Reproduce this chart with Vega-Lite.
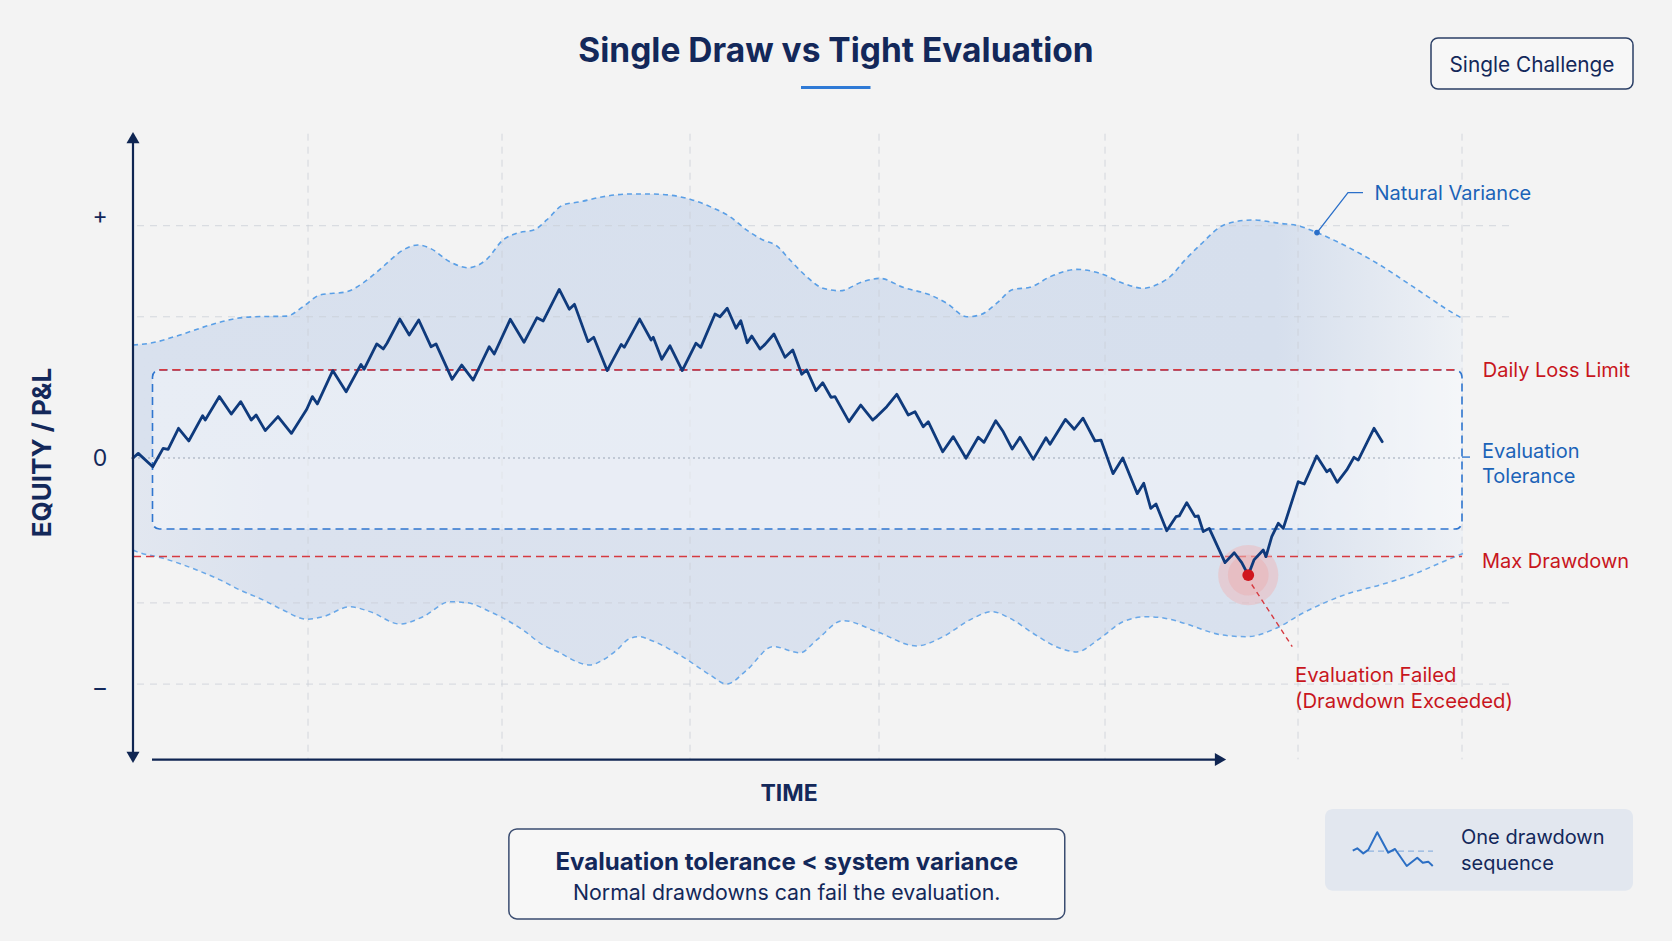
{
  "$schema": "https://vega.github.io/schema/vega-lite/v6.json",
  "width": 1672,
  "height": 941,
  "padding": 0,
  "autosize": {"type": "fit", "contains": "padding"},
  "background": "#f3f3f3",
  "config": {"view": {"stroke": null}, "text": {"font": "Inter"}},
  "datasets": {
    "equity": [
      {"t":0,"v":0},{"t":0.42,"v":2.0},{"t":1.58,"v":-3.8},{"t":2.41,"v":4.2},{"t":2.81,"v":3.8},{"t":3.64,"v":12.9},{"t":4.46,"v":7.4},{"t":5.57,"v":18.4},{"t":5.78,"v":16.5},{"t":6.91,"v":26.7},{"t":7.86,"v":19.1},{"t":8.62,"v":24.5},{"t":9.46,"v":16.5},{"t":9.85,"v":18.7},{"t":10.58,"v":11.9},{"t":11.6,"v":18.0},{"t":12.67,"v":10.7},{"t":13.9,"v":21.2},{"t":14.35,"v":26.7},{"t":14.75,"v":23.5},{"t":15.98,"v":38.0},{"t":17.05,"v":28.8},{"t":18.24,"v":40.7},{"t":18.49,"v":38.6},{"t":19.5,"v":49.6},{"t":20.02,"v":47.4},{"t":20.32,"v":49.9},{"t":21.34,"v":60.4},{"t":22.1,"v":53.5},{"t":22.86,"v":60.0},{"t":23.84,"v":48.4},{"t":24.24,"v":49.6},{"t":25.53,"v":34.2},{"t":26.3,"v":40.4},{"t":27.21,"v":33.9},{"t":28.5,"v":48.4},{"t":28.9,"v":45.2},{"t":30.18,"v":60.3},{"t":31.28,"v":50.3},{"t":32.32,"v":61.0},{"t":32.82,"v":59.6},{"t":34.1,"v":73.3},{"t":34.9,"v":64.7},{"t":35.32,"v":66.8},{"t":36.4,"v":50.6},{"t":36.86,"v":52.5},{"t":37.93,"v":38.0},{"t":39.06,"v":49.4},{"t":39.3,"v":48.1},{"t":40.53,"v":60.4},{"t":41.45,"v":51.3},{"t":41.62,"v":52.5},{"t":42.3,"v":42.9},{"t":42.96,"v":48.8},{"t":43.94,"v":38.0},{"t":45.04,"v":49.9},{"t":45.42,"v":48.1},{"t":46.56,"v":62.6},{"t":46.96,"v":61.4},{"t":47.54,"v":65.1},{"t":48.24,"v":56.4},{"t":48.62,"v":59.7},{"t":49.14,"v":50.1},{"t":49.5,"v":53.0},{"t":50.16,"v":47.4},{"t":50.56,"v":49.4},{"t":51.28,"v":53.9},{"t":52.16,"v":43.8},{"t":52.78,"v":47.0},{"t":53.5,"v":36.4},{"t":53.9,"v":38.3},{"t":54.64,"v":29.3},{"t":55.18,"v":32.7},{"t":55.84,"v":26.4},{"t":56.16,"v":26.7},{"t":57.28,"v":15.8},{"t":58.22,"v":23.0},{"t":59.18,"v":16.5},{"t":59.5,"v":18.0},{"t":60.3,"v":22.3},{"t":61.1,"v":27.7},{"t":62.02,"v":18.7},{"t":62.56,"v":20.1},{"t":63.22,"v":13.6},{"t":63.62,"v":15.8},{"t":64.78,"v":2.7},{"t":65.62,"v":9.3},{"t":66.64,"v":-0.1},{"t":67.62,"v":9.0},{"t":68.08,"v":6.8},{"t":69.02,"v":16.2},{"t":69.62,"v":11.4},{"t":70.34,"v":3.9},{"t":70.96,"v":9.0},{"t":72.02,"v":-0.6},{"t":73.04,"v":8.8},{"t":73.36,"v":6.0},{"t":74.6,"v":16.8},{"t":75.3,"v":12.5},{"t":76.0,"v":17.3},{"t":76.96,"v":7.4},{"t":77.44,"v":7.8},{"t":78.4,"v":-6.8},{"t":79.18,"v":0},{"t":80.34,"v":-15.5},{"t":80.86,"v":-11.0},{"t":81.42,"v":-21.9},{"t":81.84,"v":-20.0},{"t":82.7,"v":-31.6},{"t":83.44,"v":-25.5},{"t":83.7,"v":-25.2},{"t":84.3,"v":-19.4},{"t":84.96,"v":-25.5},{"t":85.22,"v":-25.2},{"t":85.62,"v":-32.0},{"t":86.1,"v":-30.6},{"t":87.36,"v":-45.5},{"t":88.1,"v":-41.2},{"t":88.7,"v":-45.5},{"t":89.22,"v":-50.9},{"t":89.68,"v":-44.3},{"t":90.42,"v":-40.0},{"t":90.64,"v":-42.9},{"t":91.1,"v":-34.2},{"t":91.62,"v":-28.4},{"t":92.02,"v":-30.6},{"t":93.22,"v":-10.3},{"t":93.7,"v":-11.3},{"t":94.7,"v":0.9},{"t":95.5,"v":-6.0},{"t":95.76,"v":-4.9},{"t":96.34,"v":-10.6},{"t":97.1,"v":-5.2},{"t":97.68,"v":0.3},{"t":98.02,"v":-0.9},{"t":99.28,"v":12.9},{"t":99.94,"v":7.1}
    ],
    "bandHi": [
      {"t":0,"v":49.1},{"t":1.36,"v":49.9},{"t":3.76,"v":53.5},{"t":6.16,"v":57.8},{"t":8.3,"v":60.7},{"t":9.6,"v":61.4},{"t":12.3,"v":61.7},{"t":13.6,"v":65.8},{"t":14.96,"v":70.9},{"t":17.1,"v":72.3},{"t":18.4,"v":76.1},{"t":20.0,"v":83.2},{"t":21.6,"v":90.4},{"t":22.8,"v":92.6},{"t":23.76,"v":91.2},{"t":25.36,"v":85.3},{"t":26.8,"v":82.7},{"t":28.3,"v":86.4},{"t":29.6,"v":94.8},{"t":30.7,"v":97.7},{"t":32.16,"v":99.4},{"t":33.1,"v":103.5},{"t":34.4,"v":110.0},{"t":35.76,"v":111.4},{"t":37.6,"v":113.6},{"t":39.76,"v":114.8},{"t":41.36,"v":114.8},{"t":42.96,"v":114.3},{"t":44.56,"v":112.5},{"t":46.16,"v":109.3},{"t":47.76,"v":104.9},{"t":49.1,"v":99.1},{"t":50.4,"v":94.8},{"t":51.5,"v":92.2},{"t":52.56,"v":86.1},{"t":53.9,"v":78.8},{"t":55.2,"v":73.8},{"t":56.56,"v":72.7},{"t":58.4,"v":76.7},{"t":59.76,"v":78.1},{"t":61.6,"v":74.2},{"t":63.76,"v":70.9},{"t":65.1,"v":67.3},{"t":66.7,"v":61.4},{"t":67.76,"v":62.2},{"t":69.1,"v":67.3},{"t":70.4,"v":73.3},{"t":71.76,"v":74.2},{"t":73.36,"v":78.8},{"t":75.5,"v":82.0},{"t":77.36,"v":80.3},{"t":79.2,"v":76.0},{"t":80.8,"v":73.8},{"t":82.16,"v":76.0},{"t":82.96,"v":78.8},{"t":84.16,"v":86.1},{"t":85.36,"v":92.6},{"t":87.44,"v":101.7},{"t":89.6,"v":103.5},{"t":91.76,"v":102.0},{"t":93.28,"v":100.9},{"t":94.72,"v":98.0},{"t":97.12,"v":91.9},{"t":99.76,"v":83.9},{"t":102.4,"v":74.5},{"t":105.6,"v":63.0},{"t":106.4,"v":60.5}
    ],
    "bandLo": [
      {"t":0,"v":-40.0},{"t":0.3,"v":-40.7},{"t":2.42,"v":-43.6},{"t":5.1,"v":-48.7},{"t":6.96,"v":-53.0},{"t":8.56,"v":-57.4},{"t":10.4,"v":-61.7},{"t":12.0,"v":-66.1},{"t":13.9,"v":-70.1},{"t":15.2,"v":-69.0},{"t":17.36,"v":-64.7},{"t":18.96,"v":-66.8},{"t":21.36,"v":-72.2},{"t":23.2,"v":-69.0},{"t":25.36,"v":-62.5},{"t":26.7,"v":-62.9},{"t":28.56,"v":-66.8},{"t":31.2,"v":-74.8},{"t":32.8,"v":-81.3},{"t":34.16,"v":-84.7},{"t":35.5,"v":-88.6},{"t":36.56,"v":-90.0},{"t":37.6,"v":-87.8},{"t":38.7,"v":-83.5},{"t":39.76,"v":-78.4},{"t":40.56,"v":-77.7},{"t":41.36,"v":-79.1},{"t":43.76,"v":-85.7},{"t":46.16,"v":-94.3},{"t":47.5,"v":-98.3},{"t":49.1,"v":-92.2},{"t":51.2,"v":-82.0},{"t":53.36,"v":-84.7},{"t":54.7,"v":-79.1},{"t":56.8,"v":-70.7},{"t":59.5,"v":-75.5},{"t":62.7,"v":-81.7},{"t":64.8,"v":-77.7},{"t":66.96,"v":-70.4},{"t":68.7,"v":-66.8},{"t":70.16,"v":-69.7},{"t":72.0,"v":-76.2},{"t":74.16,"v":-82.7},{"t":75.5,"v":-84.3},{"t":77.36,"v":-78.4},{"t":79.2,"v":-71.2},{"t":81.1,"v":-69.0},{"t":82.96,"v":-70.1},{"t":84.0,"v":-71.7},{"t":87.2,"v":-77.0},{"t":89.1,"v":-77.7},{"t":91.5,"v":-73.9},{"t":93.6,"v":-67.4},{"t":97.36,"v":-58.7},{"t":99.76,"v":-55.2},{"t":102.7,"v":-50.0},{"t":104.8,"v":-45.1},{"t":106.4,"v":-41.5}
    ]
  },
  "encoding": {
    "x": {"field": "t", "type": "quantitative", "scale": {"domain": [-10.64, 123.12], "nice": false, "zero": false}, "axis": null},
    "y": {"field": "v", "type": "quantitative", "scale": {"domain": [-210, 199.13], "nice": false, "zero": false}, "axis": null}
  },
  "layer": [
    {
      "data": {"name": "bandHi"},
      "mark": {"type": "area", "interpolate": "monotone", "color": {"gradient": "linear", "x1": 0, "x2": 1, "y1": 0, "y2": 0, "stops": [{"offset": 0, "color": "#d9e1ee"}, {"offset": 0.86, "color": "#d6dfed"}, {"offset": 1, "color": "#eef1f5"}]}},
      "encoding": {"y2": {"datum": 0}}
    },
    {
      "data": {"name": "bandLo"},
      "mark": {"type": "area", "interpolate": "monotone", "color": {"gradient": "linear", "x1": 0, "x2": 1, "y1": 0, "y2": 0, "stops": [{"offset": 0, "color": "#e2e7f0"}, {"offset": 0.1, "color": "#dbe2ee"}, {"offset": 0.86, "color": "#d9e1ee"}, {"offset": 1, "color": "#eef1f5"}]}},
      "encoding": {"y2": {"datum": 0}}
    },
    {
      "data": {"values": [{"t": 0.32, "t2": 110.2, "v": 101.0}, {"t": 0.32, "t2": 110.2, "v": 61.4}, {"t": 0.32, "t2": 110.2, "v": -63.0}, {"t": 0.32, "t2": 110.2, "v": -98.3}]},
      "mark": {"type": "rule", "color": "#c9ced6", "strokeDash": [7, 6], "strokeWidth": 1, "opacity": 0.75},
      "encoding": {"x2": {"field": "t2"}}
    },
    {
      "data": {"values": [{"t": 14.0, "v": 141, "v2": -131}, {"t": 29.52, "v": 141, "v2": -131}, {"t": 44.56, "v": 141, "v2": -131}, {"t": 59.68, "v": 141, "v2": -131}, {"t": 77.76, "v": 141, "v2": -131}, {"t": 93.2, "v": 141, "v2": -131}, {"t": 106.32, "v": 141, "v2": -131}]},
      "mark": {"type": "rule", "color": "#c9ced6", "strokeDash": [7, 6], "strokeWidth": 1, "opacity": 0.75},
      "encoding": {"y2": {"field": "v2"}}
    },
    {
      "data": {"name": "bandHi"},
      "mark": {"type": "line", "interpolate": "monotone", "color": "#5a9fe6", "strokeDash": [5, 4], "strokeWidth": 1.6}
    },
    {
      "data": {"name": "bandLo"},
      "mark": {"type": "line", "interpolate": "monotone", "color": "#6aa8e8", "strokeDash": [5, 4], "strokeWidth": 1.5}
    },
    {
      "data": {"values": [{"t": 1.56, "t2": 106.32, "v": 38.3, "v2": -30.9}]},
      "mark": {"type": "rect", "fill": "#ffffff", "fillOpacity": 0.4, "stroke": "#2f76cf", "strokeDash": [8, 5], "strokeWidth": 1.6, "cornerRadius": 7},
      "encoding": {"x2": {"field": "t2"}, "y2": {"field": "v2"}}
    },
    {
      "data": {"values": [{"t": 0, "t2": 106.32, "v": 0}]},
      "mark": {"type": "rule", "color": "#9aa5b5", "strokeDash": [2, 3], "strokeWidth": 1.2},
      "encoding": {"x2": {"field": "t2"}}
    },
    {
      "data": {"values": [{"t": 106.32, "t2": 106.96, "v": 0.4}]},
      "mark": {"type": "rule", "color": "#2f76cf", "strokeWidth": 1.4},
      "encoding": {"x2": {"field": "t2"}}
    },
    {
      "data": {"values": [{"t": 2.1, "t2": 105.8, "v": 38.3}, {"t": 0, "t2": 106.32, "v": -42.8}]},
      "mark": {"type": "rule", "color": "#d63a40", "strokeDash": [8, 5], "strokeWidth": 1.6},
      "encoding": {"x2": {"field": "t2"}}
    },
    {
      "data": {"values": [{"t": 89.22, "v": -50.9}]},
      "mark": {"type": "point", "filled": true, "shape": "circle", "size": 3630, "color": "#f0b4b4", "opacity": 0.45}
    },
    {
      "data": {"values": [{"t": 89.22, "v": -50.9}]},
      "mark": {"type": "point", "filled": true, "shape": "circle", "size": 1660, "color": "#eda3a3", "opacity": 0.35}
    },
    {
      "data": {"name": "equity"},
      "mark": {"type": "line", "color": "#0f3a7c", "strokeWidth": 2.8, "strokeJoin": "round", "strokeCap": "round"}
    },
    {
      "data": {"values": [{"t": 89.5, "t2": 92.74, "v": -55.0, "v2": -82.0}]},
      "mark": {"type": "rule", "color": "#d63a40", "strokeDash": [5, 4], "strokeWidth": 1.4},
      "encoding": {"x2": {"field": "t2"}, "y2": {"field": "v2"}}
    },
    {
      "data": {"values": [{"t": 89.22, "v": -50.9}]},
      "mark": {"type": "point", "filled": true, "shape": "circle", "size": 140, "color": "#d0161e", "opacity": 1}
    },
    {
      "data": {"values": [{"t": 94.72, "v": 98.0}, {"t": 97.2, "v": 115.4}, {"t": 98.4, "v": 115.4}]},
      "mark": {"type": "line", "color": "#2a6fc9", "strokeWidth": 1.3}
    },
    {
      "data": {"values": [{"t": 94.72, "v": 98.0}]},
      "mark": {"type": "point", "filled": true, "shape": "circle", "size": 32, "color": "#2a6fc9", "opacity": 1}
    },
    {
      "data": {"values": [{"t": 0, "v": 138, "v2": -130}]},
      "mark": {"type": "rule", "color": "#0f2552", "strokeWidth": 2.2},
      "encoding": {"y2": {"field": "v2"}}
    },
    {
      "data": {"values": [{"t": 1.52, "t2": 86.6, "v": -131.1}]},
      "mark": {"type": "rule", "color": "#0f2552", "strokeWidth": 2.2},
      "encoding": {"x2": {"field": "t2"}}
    },
    {
      "data": {"values": [{"t": 0, "v": 139.3}]},
      "mark": {"type": "point", "filled": true, "shape": "triangle-up", "size": 170, "color": "#0f2552", "opacity": 1}
    },
    {
      "data": {"values": [{"t": 0, "v": -130.2}]},
      "mark": {"type": "point", "filled": true, "shape": "triangle-down", "size": 170, "color": "#0f2552", "opacity": 1}
    },
    {
      "data": {"values": [{"t": 87.0, "v": -131.1}]},
      "mark": {"type": "point", "filled": true, "shape": "triangle-right", "size": 170, "color": "#0f2552", "opacity": 1}
    },
    {
      "data": {"values": [{"label": "Single Draw vs Tight Evaluation", "t": 56.24, "v": 176.4}]},
      "mark": {"type": "text", "fontSize": 33.5, "fontWeight": 700, "color": "#13285a", "align": "center", "baseline": "middle"},
      "encoding": {"text": {"field": "label"}}
    },
    {
      "data": {"values": [{"t": 53.44, "t2": 59.0, "v": 161.1}]},
      "mark": {"type": "rule", "color": "#2f7ad6", "strokeWidth": 3},
      "encoding": {"x2": {"field": "t2"}}
    },
    {
      "data": {"values": [{"t": 103.84, "t2": 120.0, "v": 182.6, "v2": 160.4}]},
      "mark": {"type": "rect", "fill": "#f7f7f7", "stroke": "#2b3f66", "strokeWidth": 1.5, "cornerRadius": 7},
      "encoding": {"x2": {"field": "t2"}, "y2": {"field": "v2"}}
    },
    {
      "data": {"values": [{"label": "Single Challenge", "t": 111.92, "v": 170.4}]},
      "mark": {"type": "text", "fontSize": 20.8, "color": "#13285a", "align": "center", "baseline": "middle"},
      "encoding": {"text": {"field": "label"}}
    },
    {
      "data": {"values": [{"label": "+", "t": -2.64, "v": 104.8}, {"label": "0", "t": -2.64, "v": -0.5}, {"label": "–", "t": -2.64, "v": -100.4}]},
      "mark": {"type": "text", "fontSize": 23, "color": "#13285a", "align": "center", "baseline": "middle"},
      "encoding": {"text": {"field": "label"}}
    },
    {
      "data": {"values": [{"label": "EQUITY / P&L", "t": -7.2, "v": 2.4}]},
      "mark": {"type": "text", "fontSize": 26, "fontWeight": 700, "angle": 270, "color": "#13285a", "align": "center", "baseline": "middle"},
      "encoding": {"text": {"field": "label"}}
    },
    {
      "data": {"values": [{"label": "TIME", "t": 52.48, "v": -146.0}]},
      "mark": {"type": "text", "fontSize": 23, "fontWeight": 700, "color": "#13285a", "align": "center", "baseline": "middle"},
      "encoding": {"text": {"field": "label"}}
    },
    {
      "data": {"values": [{"label": "Natural Variance", "t": 99.32, "v": 114.8}, {"label": "Evaluation", "t": 107.92, "v": 2.5}, {"label": "Tolerance", "t": 107.92, "v": -8.2}]},
      "mark": {"type": "text", "fontSize": 20, "color": "#1b63b8", "align": "left", "baseline": "middle"},
      "encoding": {"text": {"field": "label"}}
    },
    {
      "data": {"values": [{"label": "Daily Loss Limit", "t": 107.98, "v": 37.9}, {"label": "Max Drawdown", "t": 107.92, "v": -45.2}]},
      "mark": {"type": "text", "fontSize": 20, "color": "#c8161d", "align": "left", "baseline": "middle"},
      "encoding": {"text": {"field": "label"}}
    },
    {
      "data": {"values": [{"label": "Evaluation Failed", "t": 92.96, "v": -94.8}, {"label": "(Drawdown Exceeded)", "t": 92.96, "v": -106.3}]},
      "mark": {"type": "text", "fontSize": 20.3, "color": "#c8161d", "align": "left", "baseline": "middle"},
      "encoding": {"text": {"field": "label"}}
    },
    {
      "data": {"values": [{"t": 30.07, "t2": 74.54, "v": -161.3, "v2": -200.4}]},
      "mark": {"type": "rect", "fill": "#f7f7f7", "stroke": "#3a4c70", "strokeWidth": 1.5, "cornerRadius": 8},
      "encoding": {"x2": {"field": "t2"}, "y2": {"field": "v2"}}
    },
    {
      "data": {"values": [{"label": "Evaluation tolerance < system variance", "t": 52.3, "v": -176.0}]},
      "mark": {"type": "text", "fontSize": 24.1, "fontWeight": 700, "color": "#13285a", "align": "center", "baseline": "middle"},
      "encoding": {"text": {"field": "label"}}
    },
    {
      "data": {"values": [{"label": "Normal drawdowns can fail the evaluation.", "t": 52.3, "v": -189.6}]},
      "mark": {"type": "text", "fontSize": 21.3, "color": "#13285a", "align": "center", "baseline": "middle"},
      "encoding": {"text": {"field": "label"}}
    },
    {
      "data": {"values": [{"t": 95.36, "t2": 120.0, "v": -152.6, "v2": -188.1}]},
      "mark": {"type": "rect", "fill": "#e2e7ef", "cornerRadius": 8},
      "encoding": {"x2": {"field": "t2"}, "y2": {"field": "v2"}}
    },
    {
      "data": {"values": [{"t": 98.8, "t2": 104.0, "v": -170.9}]},
      "mark": {"type": "rule", "color": "#8fb4e0", "strokeDash": [6, 4], "strokeWidth": 1.2},
      "encoding": {"x2": {"field": "t2"}}
    },
    {
      "data": {"values": [{"t": 97.58, "v": -170.7}, {"t": 97.94, "v": -169.7}, {"t": 98.42, "v": -171.9}, {"t": 98.82, "v": -170.4}, {"t": 99.54, "v": -162.7}, {"t": 100.42, "v": -171.6}, {"t": 100.96, "v": -170.0}, {"t": 101.9, "v": -177.4}, {"t": 102.74, "v": -173.8}, {"t": 103.18, "v": -176.0}, {"t": 103.62, "v": -175.5}, {"t": 103.98, "v": -177.4}]},
      "mark": {"type": "line", "color": "#2c6fc4", "strokeWidth": 2, "strokeJoin": "round"}
    },
    {
      "data": {"values": [{"label": "One drawdown", "t": 106.24, "v": -165.3}, {"label": "sequence", "t": 106.24, "v": -176.5}]},
      "mark": {"type": "text", "fontSize": 20, "color": "#13285a", "align": "left", "baseline": "middle"},
      "encoding": {"text": {"field": "label"}}
    }
  ]
}
